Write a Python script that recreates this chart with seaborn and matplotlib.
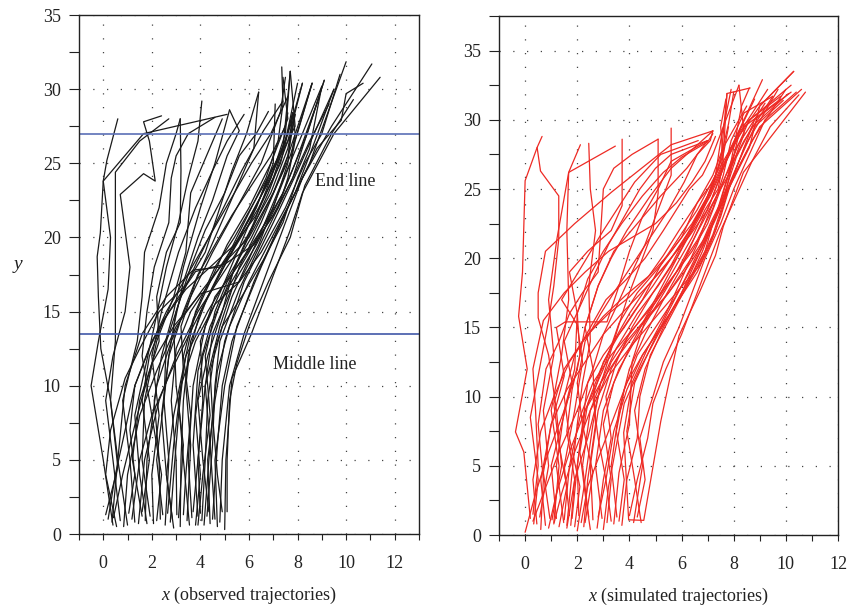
import numpy as np
import pandas as pd
import matplotlib
matplotlib.use("Agg")
import matplotlib.pyplot as plt
import seaborn as sns

# observed trajectories (left panel), one list per pedestrian
obs_x = [
    [0.1, 0.6, 0.3, -0.1, -0.2, -0.25, -0.12, 0.0, 0.15, 0.6],
    [0.4, 0.0, -0.5, -0.2, 0.2, 0.3, 0.0, 1.66, 5.1],
    [0.7, 0.4, 0.1, 0.4, 0.9, 1.1, 0.7, 1.66, 2.14, 1.9, 1.66, 2.4],
    [1.0, 0.6, 0.3, 0.5, 0.5, 0.5, 0.5, 1.5, 2.7],
    [1.3, 1.1, 0.8, 1.4, 1.6, 1.7, 2.3, 2.6, 3.0, 3.17],
    [1.6, 1.2, 1.5, 2.3, 2.2, 2.6, 3.17, 3.2, 3.17],
    [1.8, 1.5, 1.3, 1.7, 2.1, 2.6, 3.1, 3.5, 3.9, 4.06],
    [2.2, 2.4, 2.0, 1.6, 1.8, 2.1, 2.7, 2.8, 3.0, 3.5, 4.6],
    [5.0, 5.05, 5.3, 6.1, 6.9, 7.7, 8.2, 9.5, 11.4],
    [4.8, 4.9, 5.2, 5.8, 6.7, 7.5, 8.2, 9.4, 11.06],
    [4.7, 4.6, 5.0, 5.5, 6.5, 7.6, 8.8, 9.8, 10.0, 10.7],
    [4.5, 4.7, 4.9, 5.3, 6.2, 7.3, 8.5, 10.0],
    [4.4, 4.3, 4.6, 5.0, 5.8, 7.0, 8.0, 9.5],
    [4.27, 4.5, 4.6, 4.8, 5.6, 6.6, 7.8, 9.1],
    [4.06, 4.2, 4.3, 4.6, 5.3, 6.4, 7.3, 8.2, 9.0],
    [4.0, 3.9, 4.2, 4.8, 5.6, 6.5, 7.4, 8.6],
    [3.8, 4.0, 3.8, 4.1, 4.8, 5.7, 6.8, 7.6, 8.2],
    [3.65, 3.5, 3.7, 4.2, 5.0, 5.9, 6.8, 7.5, 7.8],
    [3.45, 3.6, 3.4, 3.6, 4.3, 5.3, 6.4, 7.3, 7.9, 7.7],
    [3.17, 3.2, 3.3, 3.5, 4.0, 4.9, 5.8, 6.7, 7.2, 7.4, 7.35],
    [3.03, 3.0, 2.8, 3.0, 3.6, 4.4, 5.4, 6.3, 7.0, 7.08],
    [2.76, 2.9, 3.1, 3.3, 3.2, 3.8, 4.6, 5.4, 6.2, 6.4],
    [2.55, 2.7, 2.5, 2.7, 3.0, 3.6, 4.2, 5.0, 5.6, 6.3, 6.8],
    [2.35, 2.3, 2.1, 2.4, 2.9, 3.3, 4.0, 4.6, 5.2],
    [2.07, 2.0, 2.3, 2.0, 2.4, 3.1, 3.8, 4.5, 5.1, 5.8],
    [1.93, 1.6, 1.7, 2.2, 2.9, 3.4, 3.6, 4.9],
    [1.73, 1.8, 2.2, 2.8, 3.6, 4.5, 5.5, 6.5, 7.3, 7.5],
    [1.45, 1.7, 2.3, 3.0, 3.9, 4.9, 5.9, 6.9, 7.6, 7.9],
    [1.18, 1.5, 2.0, 2.8, 3.7, 4.8, 5.9, 6.9, 7.7, 8.2],
    [0.84, 1.0, 1.5, 2.2, 3.0, 4.1, 5.3, 6.4, 7.3, 7.8],
    [0.42, 0.8, 1.4, 2.0, 2.9, 4.0, 5.6, 6.5, 7.5, 8.3, 9.0, 9.75],
    [0.36, 0.6, 0.9, 1.6, 2.6, 3.7, 4.8, 6.0, 7.0, 7.7, 8.6],
    [4.9, 4.7, 4.5, 4.7, 5.2, 6.0, 7.1, 7.9, 8.6, 9.5],
    [4.6, 4.4, 4.2, 4.5, 5.4, 6.3, 7.4, 7.9, 8.9],
    [3.9, 3.7, 3.9, 4.4, 5.1, 6.0, 7.0, 7.6, 7.8],
    [3.55, 3.3, 3.1, 3.4, 3.8, 4.6, 5.4, 6.6, 7.4, 7.7],
    [3.3, 3.4, 3.6, 3.3, 3.7, 4.4, 5.1, 6.0, 6.9, 7.6, 7.4],
    [2.9, 2.6, 2.9, 3.4, 4.3, 5.2, 6.1, 7.0, 7.6, 7.9],
    [5.1, 5.1, 5.2, 5.5, 6.0, 6.8, 7.7, 8.3, 9.4, 10.3],
    [2.45, 2.2, 2.5, 2.6, 3.2, 3.9, 4.8, 5.7, 6.6, 7.4],
    [4.15, 4.35, 4.5, 4.4, 4.9, 5.7, 6.6, 7.4, 8.0, 8.5, 9.0],
    [3.7, 3.9, 4.1, 4.0, 4.6, 5.5, 6.4, 7.2, 7.6, 7.9, 8.6],
    [2.65, 2.9, 3.2, 3.8, 4.6, 5.6, 6.4, 7.1, 7.7, 7.9, 7.8],
    [1.05, 1.3, 1.1, 1.3, 2.0, 2.9, 3.8, 5.0, 6.2, 7.0, 7.8, 8.5, 9.3],
    [0.55, 0.1, 0.3, 0.9, 1.5, 2.3, 3.4, 4.2, 4.8, 5.3, 5.9, 6.4],
    [3.1, 3.3, 3.0, 2.9, 3.3, 3.9, 4.5, 5.1, 5.6, 5.2],
    [4.35, 4.1, 3.9, 4.3, 4.9, 5.4, 6.2, 6.9, 7.5, 7.7],
    [1.6, 1.9, 1.6, 1.9, 2.5, 3.4, 4.4, 5.4, 6.3, 7.0, 7.5, 8.0],
    [2.85, 2.6, 2.4, 2.7, 3.3, 3.9, 4.6, 5.3, 6.1, 6.9, 7.5, 7.6],
    [3.9, 4.1, 4.4, 4.2, 4.6, 5.1, 5.9, 6.7, 7.4, 7.9, 8.4, 9.1],
    [0.2, 0.5, 0.9, 1.3, 1.9, 2.6, 3.3, 4.0, 4.7, 5.4, 6.1, 6.9, 7.6],
]
obs_y = [
    [1.3, 4.5, 9, 12.5, 16, 18.7, 20.3, 23.8, 25.2, 28.0],
    [0.6, 5, 10, 13, 16.5, 20, 23.8, 27.0, 28.3],
    [0.9, 5, 9, 12, 15, 18, 22.9, 24.3, 23.8, 26.5, 27.8, 28.2],
    [0.6, 5, 9, 13, 17, 20.5, 24.4, 26.5, 28.0],
    [0.8, 5, 9, 13, 16, 19, 22, 25, 27, 28.0],
    [1.2, 5, 9, 13, 16, 19, 21, 24.5, 28.0],
    [0.7, 4, 8, 11, 14, 18, 21, 24, 26.5, 29.2],
    [0.9, 4, 8, 12, 15, 18, 21, 24, 25.5, 27, 28.1],
    [0.3, 5, 10.5, 13.5, 17, 20.5, 23, 27, 30.8],
    [0.8, 5, 10, 13.5, 17.5, 21, 24, 27.5, 31.7],
    [0.5, 5, 10, 14, 18, 22, 26, 27.9, 29.7, 30.4],
    [1.0, 6, 10, 13, 17, 21, 25, 31.85],
    [0.7, 5, 9, 13, 17, 21, 24.5, 30.0],
    [1.2, 6, 10, 13, 16.5, 20, 24, 30.6],
    [0.9, 5, 9, 12.5, 16, 20, 23.5, 27, 30.2],
    [1.4, 5, 10, 14, 18, 21, 24.5, 30.4],
    [0.6, 4, 8, 12, 15.5, 19, 23, 26.5, 30.4],
    [1.1, 5, 10, 14, 17, 20.5, 24, 26.5, 28.4],
    [0.9, 6, 10, 13, 16, 19, 22.5, 25.5, 27.5, 31.2],
    [0.5, 5, 9, 12, 15, 18, 21, 24, 26.5, 29, 31.5],
    [1.3, 5, 9, 12.5, 15, 17, 19.5, 22, 25, 29.0],
    [0.8, 4, 8, 11, 14, 17, 20, 23, 26, 29.8],
    [0.6, 5, 9, 12, 15, 18, 20.5, 23, 25.5, 27, 28.5],
    [1.0, 5, 9, 12, 15, 18, 22, 25, 28.6],
    [0.7, 4, 8, 12, 15, 19, 22, 24.5, 26.5, 28.3],
    [1.2, 5, 9, 13, 16, 19, 23, 28.0],
    [0.9, 5, 10, 13, 16, 19, 22, 25, 28.5, 30.8],
    [0.7, 5, 9, 12, 15, 17.5, 20, 23, 26, 28.3],
    [1.0, 5, 8, 11, 14, 17.5, 21, 24, 27.5, 30.4],
    [0.5, 4, 8, 11, 14, 16.5, 19, 22, 25, 28.4],
    [1.1, 4, 8, 11.5, 14, 16.2, 17, 19, 22, 25, 27, 31.0],
    [0.8, 5, 10, 13.5, 16, 17.8, 18, 20, 23, 25.5, 30.4],
    [1.5, 4, 8, 11, 14, 17, 20.5, 23, 26, 30.0],
    [1.0, 6, 10, 13.5, 17, 19.5, 23, 25, 29.5],
    [1.2, 6, 11, 14, 16.5, 19, 22, 25, 28.4],
    [0.6, 5, 9, 12, 15, 18, 20, 23.5, 26, 31.2],
    [1.3, 4, 8, 12, 14.5, 17, 19.5, 22, 25, 28, 30.8],
    [0.4, 4, 8, 12, 15, 17.5, 20, 23, 25.5, 28.3],
    [1.5, 5, 9, 11.5, 14, 17, 20, 23.5, 27, 29.3],
    [1.3, 5, 9, 13, 16, 18.5, 21.5, 24.5, 27.2, 29.2],
    [0.6, 5, 8, 11, 14, 16, 18.5, 21, 24, 26, 30.2],
    [1.5, 5, 9, 13, 16, 18, 20, 22, 24, 26.5, 30.4],
    [1.4, 6, 10, 13, 15.5, 17, 19.5, 22.5, 25, 27, 28.4],
    [1.4, 4, 7, 10, 13, 15.5, 17.7, 18.2, 19.5, 21.5, 24, 26.5, 29],
    [0.5, 4, 7, 10.5, 12.5, 15, 16.8, 19, 22, 24.5, 27, 29.8],
    [1.1, 6, 10, 14, 17, 20, 22.5, 25.5, 27.2, 28.6],
    [1.5, 5, 9, 12, 15, 18, 21, 24, 27, 31.2],
    [1.5, 5, 9, 12, 14.5, 16.5, 18, 19.5, 21.5, 24, 26.5, 30.4],
    [1.0, 4, 8, 12, 15, 17.5, 19.5, 21.5, 23.5, 25.5, 27.5, 28.4],
    [0.6, 4, 8, 12, 15, 17, 19, 21, 23, 25, 27, 30.6],
    [1.0, 4, 7, 10, 12.5, 15, 17, 19, 21, 23, 25, 27, 29.5],
]

# simulated trajectories (right panel)
sim_x = [
    [0.2, -0.05, -0.37, 0.08, -0.25, -0.1, 0.0, 0.46, 0.65],
    [0.33, 0.5, 0.2, 0.6, 0.9, 1.1, 1.29, 1.29, 0.59, 0.46],
    [1.1, 1.3, 1.0, 1.4, 1.67, 1.6, 1.67, 2.12],
    [1.6, 1.8, 2.0, 2.2, 2.5, 2.44, 2.7, 2.5, 2.44],
    [0.56, 0.9, 0.7, 1.1, 0.9, 1.22, 1.67, 3.46],
    [0.78, 0.6, 1.0, 1.5, 1.2, 1.54, 3.14, 3.6, 4.0, 4.5, 5.1, 5.6, 7.0],
    [1.48, 1.2, 1.5, 1.9, 2.0, 1.7, 2.4, 3.3, 3.72, 3.72],
    [0.0, 0.4, 0.9, 1.5, 2.0, 2.3, 2.8, 3.3, 3.9, 4.8, 5.6, 6.2, 7.2],
    [1.03, 1.4, 1.2, 0.9, 0.5, 0.5, 0.78, 1.9, 3.33, 4.8, 5.6, 7.2],
    [1.7, 1.5, 1.9, 2.2, 2.0, 1.4, 2.2, 3.0, 4.2, 5.2, 6.64],
    [2.25, 2.4, 2.7, 2.6, 3.0, 3.5, 4.1, 4.6, 5.1, 5.6, 5.6],
    [2.44, 2.2, 2.5, 3.0, 3.4, 3.9, 4.4, 4.9, 5.1, 5.1],
    [0.3, 0.7, 1.3, 2.0, 2.6, 2.3, 2.8, 3.4, 4.3, 5.2, 6.2, 7.0],
    [1.8, 2.0, 2.3, 3.0, 3.6, 4.3, 5.2, 6.0, 6.6, 7.2, 7.6, 7.74, 8.63],
    [3.97, 4.55, 5.2, 5.57, 5.9, 6.7, 7.3, 7.6, 8.37, 10.75],
    [4.16, 4.5, 4.2, 4.6, 5.3, 6.0, 6.6, 7.2, 7.8, 8.6, 9.0, 10.3],
    [3.97, 3.78, 4.1, 4.7, 5.4, 6.0, 6.6, 7.1, 7.7, 8.4, 9.5],
    [3.71, 3.9, 4.3, 4.4, 4.8, 5.5, 6.2, 6.8, 7.3, 7.9, 8.7, 10.0],
    [3.52, 3.3, 3.6, 4.0, 4.6, 5.3, 5.9, 6.5, 7.1, 7.6, 8.3, 10.2],
    [3.14, 3.3, 3.0, 3.4, 4.0, 4.7, 5.4, 6.1, 6.7, 7.3, 7.9, 9.1],
    [2.95, 2.7, 3.0, 3.6, 4.2, 5.0, 5.8, 6.5, 7.2, 7.8, 8.4, 8.2],
    [2.76, 3.0, 3.3, 3.1, 3.5, 4.1, 4.9, 5.6, 6.3, 7.0, 7.5, 7.74],
    [2.0, 2.3, 2.6, 2.9, 3.5, 4.3, 5.1, 5.8, 6.5, 7.1, 7.7, 8.4, 9.8],
    [1.6, 1.9, 2.4, 2.8, 3.3, 4.0, 4.8, 5.6, 6.4, 7.0, 7.5, 7.9, 8.6, 9.8],
    [1.1, 1.4, 1.9, 2.5, 3.2, 4.0, 4.9, 5.8, 6.7, 7.3, 7.8, 8.2, 8.8, 10.2],
    [2.06, 2.0, 2.2, 2.4, 3.0, 3.8, 4.5, 5.2, 5.9, 6.6, 7.3, 7.9, 9.0, 10.3],
    [4.3, 4.6, 4.4, 4.9, 5.3, 5.9, 6.4, 6.9, 7.5, 8.0, 8.6, 9.2, 10.4],
    [3.4, 3.6, 4.0, 4.1, 4.6, 5.2, 5.8, 6.4, 6.9, 7.4, 7.6, 7.5, 7.7],
    [2.6, 2.5, 2.8, 3.3, 3.9, 4.7, 5.5, 6.2, 6.9, 7.4, 7.8, 8.0, 8.3, 8.6],
    [1.5, 1.7, 2.1, 2.6, 3.3, 4.1, 5.0, 5.8, 6.6, 7.2, 7.6, 7.9, 8.4, 9.5],
    [3.0, 3.2, 3.5, 3.8, 4.4, 5.1, 5.7, 6.3, 6.9, 7.2, 7.7, 8.1, 8.7, 10.1],
    [0.6, 0.7, 0.5, 0.8, 1.3, 1.7, 2.2, 2.8, 2.9, 3.0, 3.4, 4.1, 5.1],
    [1.2, 1.0, 1.4, 1.8, 1.5, 2.1, 2.7, 3.2, 3.8, 4.4, 5.0, 5.6, 7.0],
    [2.3, 2.6, 2.2, 2.0, 2.3, 2.9, 3.4, 4.1, 4.8, 5.5, 6.1, 6.6, 7.1, 7.2],
    [0.3, 0.5, 0.4, 0.3, 0.7, 1.5, 2.3, 3.2, 4.1, 5.0, 5.8, 6.4, 6.9, 7.3],
    [1.9, 2.1, 1.7, 1.5, 1.9, 2.5, 3.1, 3.9, 4.6, 5.3, 5.8, 6.3, 6.8, 7.2, 8.2],
    [0.9, 1.2, 1.7, 2.3, 2.9, 3.6, 4.4, 5.3, 6.1, 6.8, 7.3, 7.7, 8.1, 9.2],
    [2.5, 2.3, 2.1, 2.4, 2.9, 3.4, 4.0, 4.7, 5.5, 6.3, 7.0, 7.4, 7.9, 8.8],
    [3.3, 3.1, 3.4, 3.9, 4.5, 5.2, 5.9, 6.6, 7.1, 7.5, 7.9, 8.4, 9.7],
    [4.0, 4.3, 4.7, 4.9, 5.4, 6.0, 6.5, 7.0, 7.5, 8.1, 8.7, 9.4, 10.5],
    [2.8, 3.1, 2.8, 2.6, 3.0, 3.6, 4.2, 4.9, 5.6, 6.3, 6.9, 7.3, 7.5, 7.9],
    [1.3, 1.6, 1.3, 1.1, 1.5, 2.2, 3.0, 3.9, 4.8, 5.6, 6.4, 7.0, 7.5, 7.8],
    [0.45, 0.3, 0.6, 1.1, 1.7, 2.4, 3.2, 4.0, 4.7, 5.3, 5.9, 6.6, 7.2, 7.6, 8.5],
    [3.6, 3.8, 3.5, 3.8, 4.3, 5.0, 5.7, 6.3, 6.8, 7.3, 7.8, 8.3, 9.0, 10.6],
    [2.15, 2.4, 2.9, 3.4, 3.9, 4.5, 5.2, 5.9, 6.6, 7.2, 7.6, 7.9, 8.2, 9.3],
    [4.45, 4.2, 3.9, 4.2, 4.8, 5.4, 6.0, 6.6, 7.1, 7.7, 8.2, 8.8, 9.9],
    [0.95, 0.7, 1.0, 1.6, 2.3, 3.0, 3.8, 4.6, 5.4, 6.1, 6.7, 7.2, 7.5, 7.8, 8.0],
    [1.75, 1.9, 1.6, 1.8, 2.1, 2.0, 2.4, 3.0, 3.7, 4.5, 5.3, 6.0, 7.0, 7.2],
]
sim_y = [
    [1.2, 6.0, 7.45, 12.0, 15.8, 19, 25.6, 28.0, 28.8],
    [0.8, 4, 8.5, 12.5, 15.5, 18, 21.4, 24.5, 26.3, 28.0],
    [0.9, 5, 9, 13, 17, 22, 26.2, 28.2],
    [0.7, 4.5, 8, 11, 14, 18, 22, 25, 28.3],
    [1.3, 5, 9, 13, 17, 21.4, 26.2, 28.1],
    [0.7, 4, 8, 11.5, 15, 15.4, 15.4, 18, 20.5, 23, 25, 27, 28.5],
    [0.9, 5, 9, 12, 16, 19, 20.5, 22, 23.8, 28.6],
    [0.2, 3, 6, 9, 12, 15, 18, 20, 22, 24.5, 26.5, 27.5, 29.2],
    [1.1, 5, 9, 13, 15.7, 17.5, 20.5, 22.5, 24.8, 27, 28.2, 29.2],
    [1.4, 5, 9, 12.5, 15.2, 17, 19.5, 22, 25.5, 27.5, 28.5],
    [0.6, 4, 8, 12, 14.5, 16.5, 19, 21, 23.5, 26, 29.4],
    [1.3, 5, 9, 11.5, 14, 17, 19.5, 22, 24.7, 28.6],
    [1.0, 3, 6, 9, 12, 15, 18, 20.5, 22.5, 24.5, 26.5, 28.5],
    [1.2, 5, 9, 12, 15.3, 17.5, 19.5, 21.5, 24, 25.5, 27.5, 31.9, 32.3],
    [1.1, 1.06, 8.2, 11.5, 14.4, 17.6, 20.2, 22.3, 26.2, 32.0],
    [0.9, 5, 9, 12, 15, 17.5, 20, 22.5, 25, 28, 31.0, 33.5],
    [1.1, 7.4, 11, 13.5, 16, 18.5, 21, 23.5, 26, 28.5, 31.7],
    [0.7, 4, 7, 10, 13, 15.5, 18, 20.5, 23, 25.5, 28.5, 32.2],
    [1.3, 5, 9, 12, 14.5, 17, 19, 21.5, 24, 26.5, 29.5, 32.5],
    [0.9, 4, 8, 11, 13.5, 16, 18.5, 21, 23, 25.5, 28, 32.9],
    [1.2, 5, 9, 12, 14, 16.5, 19, 21.5, 24, 26, 29, 32.5],
    [0.5, 4, 7, 10, 12.5, 15, 17.5, 19.5, 22, 24.5, 27, 31.9],
    [0.3, 4, 8, 11, 13.5, 16, 18, 20, 22.5, 24.5, 27, 29.5, 31.5],
    [0.5, 4, 7, 10, 12.5, 14.5, 16.5, 18.5, 20.5, 22.5, 25, 27, 30, 31.7],
    [0.8, 3, 6, 9, 11.5, 13.5, 15.5, 17.5, 19.5, 22, 25, 27, 30, 32],
    [1.4, 5, 8, 11, 13, 15, 17, 19.5, 21.5, 23.5, 26, 28, 31, 33.5],
    [1.3, 4, 7, 10, 12.5, 15, 17.5, 20, 22.5, 25, 27.5, 30, 32],
    [0.8, 4.5, 8, 12.5, 15.5, 17.5, 19.5, 21.5, 23.5, 25, 27, 29.5, 31.5],
    [1.1, 5, 9, 12, 14, 15.8, 17.5, 19.5, 21.5, 23.5, 26, 28, 31, 32.3],
    [1.1, 5, 8.5, 11, 13, 14.8, 16.8, 19, 21.3, 23.6, 26, 28.5, 30.5, 31.7],
    [0.4, 3.5, 6.5, 9.5, 12, 14.5, 16.5, 18.5, 20.5, 22.5, 25, 27.3, 29.5, 31.9],
    [0.4, 4, 8, 12, 14, 16, 17.5, 19, 22, 25, 26.5, 27.5, 28.6],
    [1.2, 5, 8, 11, 14, 16.5, 19, 21, 23, 25, 26.5, 27.5, 28.5],
    [0.9, 4.5, 8, 11, 14, 16, 17.5, 19.5, 21.5, 23.5, 25.5, 27.5, 28.5, 29.2],
    [1.5, 5, 9, 12, 15.5, 17.5, 19, 20.5, 21.5, 22.5, 24, 25.5, 27, 28.8],
    [0.6, 3.5, 7, 10, 13, 15, 17, 18.5, 20, 22, 23.5, 25, 26, 27.5, 32.5],
    [0.5, 3, 6, 9, 11, 13, 15, 17, 19, 21, 23, 25.5, 28, 31.2],
    [0.4, 3, 6, 9.5, 12, 14, 16, 18, 19.8, 21.6, 23.5, 25.5, 28, 31.5],
    [1.0, 4, 7.5, 10.5, 13, 15, 17, 19, 21, 23, 25.5, 28, 32.2],
    [1.4, 4, 7, 9.5, 12, 14.5, 17, 19.5, 22, 24.5, 27, 29.5, 31.8],
    [1.3, 4, 7, 10, 12.5, 14.5, 16.2, 18, 20, 22, 24, 26, 28.5, 32.2],
    [0.6, 3.5, 6.5, 9.5, 12, 14, 15.8, 17.4, 18.8, 20.5, 22.5, 24.5, 26.5, 29.5],
    [0.8, 4, 7.5, 10, 12.5, 14.5, 16, 17.2, 18.6, 20.2, 22, 24, 26, 28, 31],
    [1.0, 4, 7.5, 10.5, 13, 15, 17, 19, 20.8, 22.8, 25, 27, 29.5, 32.2],
    [0.9, 3.5, 6, 8.5, 11, 13, 15, 17, 19.3, 21.7, 24, 26.5, 29, 32.2],
    [0.9, 4, 7.5, 11, 13.5, 15.8, 18, 20.3, 22.5, 24.8, 27, 29.5, 31.4],
    [1.2, 4.5, 8, 10.5, 12.5, 14.5, 16.2, 17.8, 19.5, 21.3, 23.2, 25.2, 27.3, 29.7, 32.0],
    [0.7, 4, 7.5, 10.5, 13, 16, 18.5, 20.5, 22.5, 24.5, 26.2, 27.3, 28.4, 29.0],
]

end_line = 27.0
middle_line = 13.5

x_major = [0, 2, 4, 6, 8, 10, 12]
y_major = [0, 5, 10, 15, 20, 25, 30, 35]


def tracks_frame(xs, ys):
    rows = []
    for i, (tx, ty) in enumerate(zip(xs, ys)):
        for a, b in zip(tx, ty):
            rows.append((i, a, b))
    return pd.DataFrame(rows, columns=["traj", "x", "y"])


def style_axes(ax, xmax, ymax):
    ax.set_xlim(-1, xmax)
    ax.set_ylim(0, ymax)
    ax.set_xticks(x_major)
    ax.set_xticks(np.arange(-1, xmax + 0.1, 1), minor=True)
    ax.set_yticks(y_major)
    ax.set_yticks(np.arange(0, ymax + 0.1, 2.5), minor=True)
    ax.set_axisbelow(True)
    ax.grid(True, which="major", color="#444444", linestyle=(0, (1, 10)), linewidth=0.9)
    ax.tick_params(axis="x", which="both", direction="out", length=4, width=0.8, pad=11,
                   labelsize=13, colors="#222222")
    ax.tick_params(axis="y", which="both", direction="out", length=7, width=0.8, pad=6,
                   labelsize=13, colors="#222222")
    for s in ax.spines.values():
        s.set_visible(True)
        s.set_linewidth(1.0)
        s.set_color("#222222")


sns.set_theme(style="ticks")
plt.rcParams["font.family"] = ["Liberation Serif", "DejaVu Serif"]
plt.rcParams["mathtext.fontset"] = "custom"
plt.rcParams["mathtext.rm"] = "Liberation Serif"
plt.rcParams["mathtext.it"] = "Liberation Serif:italic"

fig = plt.figure(figsize=(8.49, 6.08), dpi=100)
ax1 = fig.add_axes([0.093, 0.1217, 0.4005, 0.8536])
ax2 = fig.add_axes([0.5878, 0.12, 0.3993, 0.8537])

obs = tracks_frame(obs_x, obs_y)
sim = tracks_frame(sim_x, sim_y)

sns.lineplot(data=obs, x="x", y="y", units="traj", estimator=None, sort=False,
             color="#1a1a1a", linewidth=0.9, ax=ax1, legend=False)
sns.lineplot(data=sim, x="x", y="y", units="traj", estimator=None, sort=False,
             color="#ee2a24", linewidth=0.9, ax=ax2, legend=False)

ax1.axhline(end_line, color="#5b70b6", linewidth=1.2)
ax1.axhline(middle_line, color="#4158a8", linewidth=1.2)
ax1.text(8.72, 23.8, "End line", ha="left", va="center", fontsize=13, color="#222222")
ax1.text(7.0, 11.45, "Middle line", ha="left", va="center", fontsize=13, color="#222222")

style_axes(ax1, 13, 35)
style_axes(ax2, 12, 37.5)

ax1.set_xlabel("$x$ (observed trajectories)", fontsize=13, color="#222222")
ax1.xaxis.set_label_coords(0.5, -0.098)
ax1.set_ylabel("$y$", fontsize=14, rotation=0, color="#222222")
ax1.yaxis.set_label_coords(-0.18, 0.5)
ax2.set_xlabel("$x$ (simulated trajectories)", fontsize=13, color="#222222")
ax2.xaxis.set_label_coords(0.528, -0.098)
ax2.set_ylabel("")

fig.savefig("out.png", dpi=100)
